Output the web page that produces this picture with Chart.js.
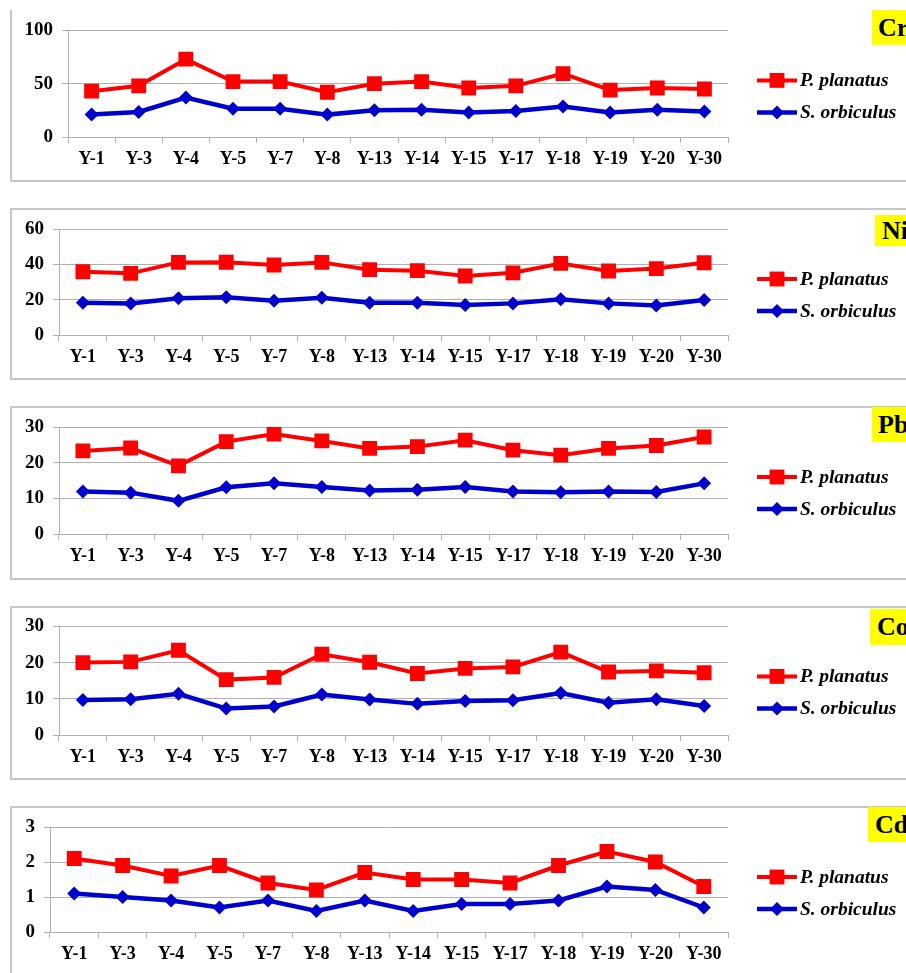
<!DOCTYPE html>
<html>
<head>
<meta charset="utf-8">
<script src="https://cdn.jsdelivr.net/npm/chart.js@4.4.0/dist/chart.umd.min.js"></script>
<style>
  html, body { margin: 0; padding: 0; background: #fff; }
  body { width: 906px; height: 973px; position: relative; overflow: hidden; }
  .panel { position: absolute; left: 10px; width: 910px; border: 2px solid #c8c8c8; border-right: none; box-sizing: border-box; }
  canvas { position: absolute; left: 0; }
  .tag { position: absolute; background: #ffff00; color: #000; font: bold 26px "Liberation Serif", "Times New Roman", serif; box-sizing: border-box; width: 60px; white-space: nowrap; }
</style>
</head>
<body>
<script>
const sites = ['Y-1', 'Y-3', 'Y-4', 'Y-5', 'Y-7', 'Y-8', 'Y-13', 'Y-14', 'Y-15', 'Y-17', 'Y-18', 'Y-19', 'Y-20', 'Y-30'];
const speciesNames = ['P. planatus', 'S. orbiculus'];

const crPlanatus = [43, 48, 73, 52, 52, 42, 50, 52, 46, 48, 59.5, 44, 46, 45];
const crOrbiculus = [21, 23.5, 37, 26.5, 26.5, 21, 25, 25.5, 23, 24.5, 28.5, 23, 25.5, 24];
const niPlanatus = [35.8, 34.9, 41.1, 41.2, 39.6, 41.1, 37, 36.4, 33.4, 35.2, 40.5, 36.2, 37.6, 40.9];
const niOrbiculus = [18.3, 17.9, 20.8, 21.3, 19.4, 21.1, 18.2, 18.3, 17, 17.9, 20.2, 17.9, 16.7, 19.8];
const pbPlanatus = [23.3, 24.1, 19.1, 25.9, 28, 26.1, 24, 24.5, 26.3, 23.5, 22.1, 24, 24.8, 27.2];
const pbOrbiculus = [11.9, 11.6, 9.3, 13.1, 14.2, 13.2, 12.2, 12.4, 13.2, 11.9, 11.7, 11.9, 11.8, 14.2];
const coPlanatus = [20, 20.2, 23.4, 15.3, 15.9, 22.3, 20.1, 17, 18.4, 18.8, 22.9, 17.4, 17.7, 17.2];
const coOrbiculus = [9.7, 9.9, 11.4, 7.3, 7.9, 11.2, 9.8, 8.6, 9.4, 9.6, 11.6, 8.9, 9.9, 8];
const cdPlanatus = [2.1, 1.9, 1.6, 1.9, 1.4, 1.2, 1.7, 1.5, 1.5, 1.4, 1.9, 2.3, 2.0, 1.3];
const cdOrbiculus = [1.1, 1.0, 0.9, 0.7, 0.9, 0.6, 0.9, 0.6, 0.8, 0.8, 0.9, 1.3, 1.2, 0.7];

const metals = ['Cr', 'Ni', 'Pb', 'Co', 'Cd'];
const yMax = [100, 60, 30, 30, 3];
const yStep = [50, 20, 10, 10, 1];

// page layout of each panel (px)
const panels = [
    { top: 10, height: 172, noTop: true, axisLeft: 68, areaTop: 29.5, areaBottom: 137, tag: [872, 10, 35, 6], data: [crPlanatus, crOrbiculus] },
    { top: 208, height: 172, axisLeft: 59, areaTop: 229, areaBottom: 335, tag: [875, 215, 31, 7], data: [niPlanatus, niOrbiculus] },
    { top: 406, height: 174, axisLeft: 59, areaTop: 427, areaBottom: 534, tag: [872, 407, 35, 6], data: [pbPlanatus, pbOrbiculus] },
    { top: 606, height: 174, axisLeft: 59, areaTop: 626, areaBottom: 735, tag: [870, 609, 36, 7], data: [coPlanatus, coOrbiculus] },
    { top: 806, height: 167, noBottom: true, axisLeft: 50, areaTop: 827, areaBottom: 932, tag: [868, 807, 35, 7], data: [cdPlanatus, cdOrbiculus] }
];

const gridColor = '#b0b0b0';
const serif = '"Liberation Serif", "Times New Roman", serif';
const X_AXIS_H = 40;

const sideLegend = {
    id: 'sideLegend',
    afterDraw(chart) {
        const { ctx, chartArea } = chart;
        chart.data.datasets.forEach((ds, i) => {
            const y = chartArea.top + 50 + i * 32;
            const x0 = chartArea.right + 29;
            ctx.save();
            ctx.strokeStyle = ds.borderColor;
            ctx.lineWidth = ds.borderWidth;
            ctx.beginPath();
            ctx.moveTo(x0, y);
            ctx.lineTo(x0 + 40, y);
            ctx.stroke();
            ctx.fillStyle = ds.pointBackgroundColor;
            Chart.helpers.drawPoint(ctx, { pointStyle: ds.pointStyle, radius: ds.pointRadius, borderWidth: 0, rotation: 0 }, x0 + 20, y);
            ctx.fillStyle = '#000';
            ctx.font = 'italic bold 19.5px ' + serif;
            ctx.textBaseline = 'middle';
            ctx.textAlign = 'left';
            ctx.fillText(ds.label, x0 + 43, y + 1);
            ctx.restore();
        });
    }
};

panels.forEach((p, k) => {
    const box = document.createElement('div');
    box.className = 'panel';
    box.style.top = p.top + 'px';
    box.style.height = p.height + 'px';
    if (p.noTop) box.style.borderTop = 'none';
    if (p.noBottom) box.style.borderBottom = 'none';
    document.body.appendChild(box);

    const canvas = document.createElement('canvas');
    canvas.width = 906;
    canvas.height = p.height;
    canvas.style.top = p.top + 'px';
    document.body.appendChild(canvas);

    const tag = document.createElement('div');
    tag.className = 'tag';
    tag.textContent = metals[k];
    tag.style.left = p.tag[0] + 'px';
    tag.style.top = p.tag[1] + 'px';
    tag.style.height = p.tag[2] + 'px';
    tag.style.lineHeight = p.tag[2] + 'px';
    tag.style.paddingLeft = p.tag[3] + 'px';
    document.body.appendChild(tag);

    const padTop = p.areaTop - p.top;
    const padBottom = p.height - (p.areaBottom - p.top) - X_AXIS_H;

    new Chart(canvas, {
        type: 'line',
        data: {
            labels: sites,
            datasets: [
                {
                    label: speciesNames[0],
                    data: p.data[0],
                    borderColor: '#ff0000',
                    backgroundColor: '#ff0000',
                    pointBackgroundColor: '#ff0000',
                    borderWidth: 4,
                    pointStyle: 'rect',
                    pointRadius: 10.5,
                    pointBorderWidth: 0,
                    tension: 0
                },
                {
                    label: speciesNames[1],
                    data: p.data[1],
                    borderColor: '#0000cc',
                    backgroundColor: '#0000cc',
                    pointBackgroundColor: '#0000cc',
                    borderWidth: 4.5,
                    pointStyle: 'rectRot',
                    pointRadius: 7,
                    pointBorderWidth: 0,
                    tension: 0
                }
            ]
        },
        options: {
            responsive: false,
            animation: false,
            layout: { padding: { left: 0, right: 906 - 728, top: padTop, bottom: padBottom } },
            plugins: {
                legend: { display: false },
                tooltip: { enabled: false }
            },
            scales: {
                x: {
                    offset: true,
                    grid: { offset: true, drawOnChartArea: false, tickLength: 6, color: gridColor },
                    border: { color: gridColor },
                    ticks: { color: '#000', padding: 6, maxRotation: 0, autoSkip: false, font: { family: serif, size: 18, weight: 'bold' } },
                    afterFit(scale) { scale.height = X_AXIS_H; }
                },
                y: {
                    min: 0,
                    max: yMax[k],
                    ticks: { stepSize: yStep[k], color: '#000', padding: 9, font: { family: serif, size: 19, weight: 'bold' } },
                    grid: { color: gridColor, tickLength: 6 },
                    border: { color: gridColor },
                    afterFit(scale) { scale.width = p.axisLeft; }
                }
            }
        },
        plugins: [sideLegend]
    });
});
</script>
</body>
</html>
